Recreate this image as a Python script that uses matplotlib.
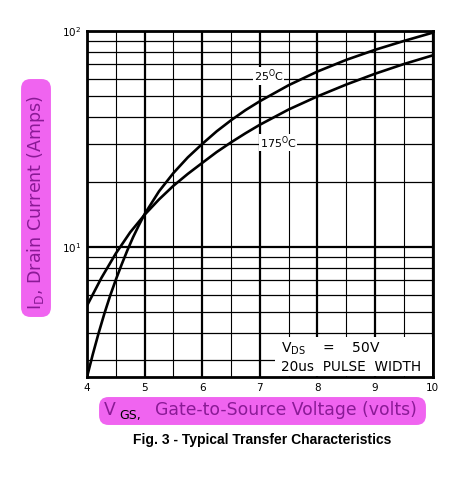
import matplotlib
matplotlib.use("Agg")
import matplotlib.pyplot as plt
from matplotlib.patches import Rectangle, FancyBboxPatch

# Curves (VGS in volts, ID in amps)
vgs_25 = [4.0, 4.1, 4.2, 4.3, 4.4, 4.5, 4.6, 4.7, 4.8, 4.9, 5.0, 5.25, 5.5,
          5.75, 6.0, 6.25, 6.5, 6.75, 7.0, 7.5, 8.0, 8.5, 9.0, 9.5, 10.0]
id_25 = [2.5, 3.18, 3.98, 4.9, 5.93, 7.05, 8.28, 9.64, 11.1, 12.6, 14.2, 18.1, 22.0,
         26.0, 30.0, 34.3, 38.6, 43.0, 47.3, 56.1, 64.9, 73.5, 81.8, 89.9, 98.2]

vgs_175 = [4.0, 4.25, 4.5, 4.75, 5.0, 5.25, 5.5, 5.75, 6.0, 6.25, 6.5, 6.75,
           7.0, 7.5, 8.0, 8.5, 9.0, 9.5, 10.0]
id_175 = [5.35, 7.19, 9.33, 11.7, 14.1, 16.6, 19.2, 21.8, 24.5, 27.5, 30.5, 33.6,
          36.8, 43.3, 49.8, 56.5, 63.4, 70.3, 77.1]

x_ticks = [4, 5, 6, 7, 8, 9, 10]
x_half = [4.5, 5.5, 6.5, 7.5, 8.5, 9.5]
y_minor = [3, 4, 5, 6, 7, 8, 9, 20, 30, 40, 50, 60, 70, 80, 90]
y_major = [10, 100]

PURPLE = "#8a1a96"
PINK = "#f064f0"

fig = plt.figure(figsize=(4.69, 4.82), dpi=100)
ax = fig.add_axes([0.1855, 0.2178, 0.737, 0.7179])
ax.set_yscale("log")
ax.set_xlim(4, 10)
ax.set_ylim(2.5, 100)

# grid
for xv in x_ticks:
    ax.axvline(xv, color="black", lw=1.6, zorder=1)
for xv in x_half:
    ax.axvline(xv, color="black", lw=0.8, zorder=1)
for yv in y_minor:
    ax.axhline(yv, color="black", lw=0.9, zorder=1)
for yv in y_major:
    ax.axhline(yv, color="black", lw=1.6, zorder=1)

ax.plot(vgs_25, id_25, color="black", lw=1.9, zorder=3, solid_joinstyle="round")
ax.plot(vgs_175, id_175, color="black", lw=1.9, zorder=3, solid_joinstyle="round")

for s in ax.spines.values():
    s.set_linewidth(2.0)

ax.set_xticks(x_ticks)
ax.set_xticklabels([str(v) for v in x_ticks], fontsize=7.5)
ax.set_yticks(y_major)
ax.set_yticklabels([r"$10^1$", r"$10^2$"], fontsize=7.5)
ax.yaxis.set_minor_locator(matplotlib.ticker.NullLocator())
ax.tick_params(length=0, pad=4)

# curve labels
ax.text(7.15, 62, r"25$^{\rm O}$C", fontsize=8, ha="center", va="center",
        bbox=dict(facecolor="white", edgecolor="none", pad=0.3), zorder=4)
ax.text(7.32, 30.5, r"175$^{\rm O}$C", fontsize=8, ha="center", va="center",
        bbox=dict(facecolor="white", edgecolor="none", pad=0.3), zorder=4)

# test condition box
ax.add_patch(Rectangle((0.543, 0.003), 0.455, 0.113, transform=ax.transAxes,
                       facecolor="white", edgecolor="none", zorder=2))
ax.text(0.56, 0.083, r"V$_{\rm DS}$    =    50V", transform=ax.transAxes,
        fontsize=10, va="center", ha="left", zorder=4)
ax.text(0.56, 0.03, "20us  PULSE  WIDTH", transform=ax.transAxes,
        fontsize=9.8, va="center", ha="left", zorder=4)

# highlighted axis labels
fig.patches.append(FancyBboxPatch((100 / 469, 1 - 424 / 482), 325 / 469, 26 / 482,
                                  boxstyle="round,pad=0.002,rounding_size=0.02",
                                  transform=fig.transFigure, facecolor=PINK,
                                  edgecolor="none"))
fig.patches.append(FancyBboxPatch((22 / 469, 1 - 316 / 482), 28 / 469, 236 / 482,
                                  boxstyle="round,pad=0.002,rounding_size=0.02",
                                  transform=fig.transFigure, facecolor=PINK,
                                  edgecolor="none"))

fig.text(104 / 469, 1 - 410 / 482, "V", fontsize=12.4, color=PURPLE,
         ha="left", va="center")
fig.text(119 / 469, 1 - 416 / 482, "GS,", fontsize=9, color="black",
         ha="left", va="center")
fig.text(155 / 469, 1 - 410 / 482, "Gate-to-Source Voltage (volts)", fontsize=12.4,
         color=PURPLE, ha="left", va="center")

fig.text(36 / 469, 1 - 203 / 482, r"I$_{\rm D}$, Drain Current (Amps)", fontsize=12.6,
         color=PURPLE, rotation=90, ha="center", va="center")

fig.text(262 / 469, 1 - 440 / 482, "Fig. 3 - Typical Transfer Characteristics",
         fontsize=10, fontweight="bold", ha="center", va="center",
         family="Liberation Sans")

fig.savefig("out.png", dpi=100)
